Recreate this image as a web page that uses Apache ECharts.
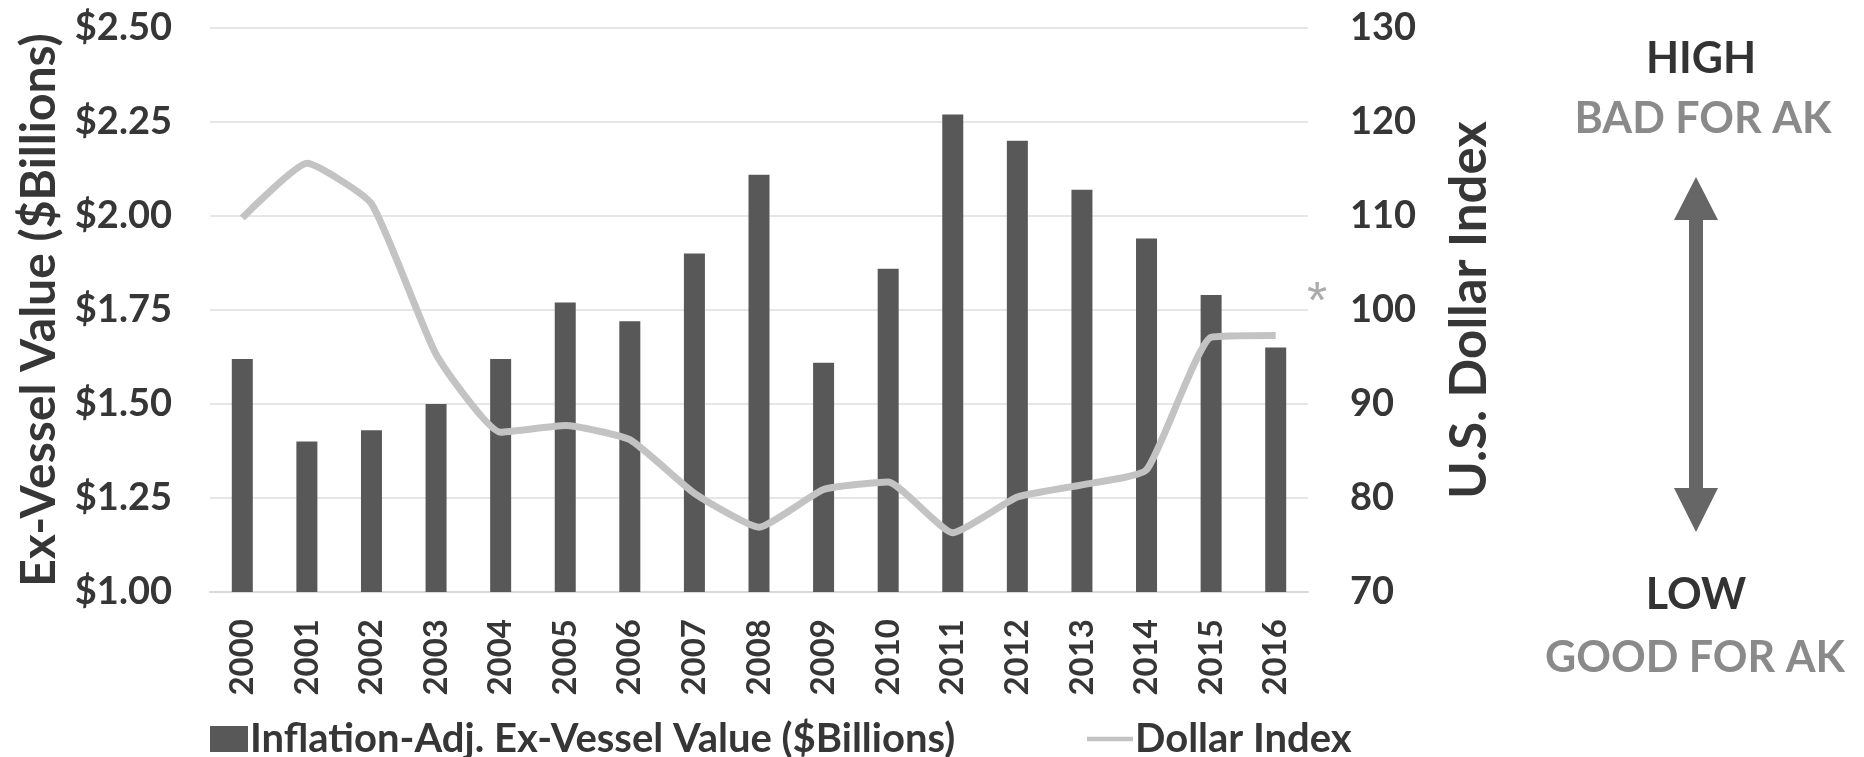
<!DOCTYPE html>
<html>
<head>
<meta charset="utf-8">
<title>Ex-Vessel Value and Dollar Index</title>
<script src="https://cdn.jsdelivr.net/npm/echarts@6/dist/echarts.min.js"></script>
<style>
  html, body { margin: 0; padding: 0; background: #ffffff; }
  #chart { width: 1864px; height: 757px; }
</style>
</head>
<body>
<div id="chart"></div>
<script>
// Years on the category axis
const years = ['2000', '2001', '2002', '2003', '2004', '2005', '2006', '2007', '2008',
               '2009', '2010', '2011', '2012', '2013', '2014', '2015', '2016'];

// Inflation-adjusted ex-vessel value, $ billions
const exVesselValue = [1.62, 1.40, 1.43, 1.50, 1.62, 1.77, 1.72, 1.90, 2.11,
                       1.61, 1.86, 2.27, 2.20, 2.07, 1.94, 1.79, 1.65];

// U.S. dollar index
const dollarIndex = [109.8, 115.6, 111.3, 95.3, 87.0, 87.7, 86.2, 80.5, 76.9,
                     80.9, 81.7, 76.3, 80.1, 81.4, 83.0, 97.1, 97.3];

// Axis ranges
const leftAxis = { min: 1.0, max: 2.5, interval: 0.25 };
const rightAxis = { min: 70, max: 130, interval: 10 };

const barName = 'Inflation-Adj. Ex-Vessel Value ($Billions)';
const lineName = 'Dollar Index';

const FONT = 'Lato';
const TEXT = '#363636';

const chart = echarts.init(document.getElementById('chart'), null, { renderer: 'canvas' });

chart.setOption({
  animation: false,
  backgroundColor: '#ffffff',
  textStyle: { fontFamily: FONT },
  grid: { left: 210, right: 556, top: 28, bottom: 165, containLabel: false },
  legend: [
    {
      data: [{ name: barName, icon: 'rect' }],
      left: 205, top: 714,
      itemWidth: 38, itemHeight: 26, itemGap: 0,
      textStyle: { fontFamily: FONT, fontWeight: 'bold', fontSize: 40, color: TEXT, padding: [0, 0, 0, -3] }
    },
    {
      data: [{ name: lineName, icon: 'path://M0,0 L10,0 L10,1 L0,1 Z' }],
      left: 1082, top: 714,
      itemWidth: 46, itemHeight: 5, itemGap: 0,
      textStyle: { fontFamily: FONT, fontWeight: 'bold', fontSize: 40, color: TEXT, padding: [0, 0, 0, -3] }
    }
  ],
  xAxis: {
    type: 'category',
    data: years,
    axisLine: { show: true, lineStyle: { color: '#d9d9d9', width: 2 } },
    axisTick: { show: false },
    axisLabel: {
      rotate: 90, margin: 27,
      fontFamily: FONT, fontWeight: 'bold', fontSize: 33, color: TEXT
    }
  },
  yAxis: [
    {
      type: 'value',
      min: leftAxis.min, max: leftAxis.max, interval: leftAxis.interval,
      name: 'Ex-Vessel Value ($Billions)',
      nameLocation: 'middle', nameRotate: 90, nameGap: 144,
      nameTextStyle: { fontFamily: FONT, fontWeight: 'bold', fontSize: 48, color: TEXT },
      axisLine: { show: false },
      axisTick: { show: false },
      axisLabel: {
        margin: 38,
        fontFamily: FONT, fontWeight: 'bold', fontSize: 38, color: TEXT,
        formatter: v => '$' + v.toFixed(2)
      },
      splitLine: { lineStyle: { color: '#e6e6e6', width: 2 } }
    },
    {
      type: 'value',
      position: 'right',
      min: rightAxis.min, max: rightAxis.max, interval: rightAxis.interval,
      name: 'U.S. Dollar Index',
      nameLocation: 'middle', nameRotate: 90, nameGap: 136,
      nameTextStyle: { fontFamily: FONT, fontWeight: 'bold', fontSize: 51, color: TEXT },
      axisLine: { show: false },
      axisTick: { show: false },
      axisLabel: {
        margin: 42,
        fontFamily: FONT, fontWeight: 'bold', fontSize: 38, color: TEXT
      },
      splitLine: { show: false }
    }
  ],
  series: [
    {
      name: barName,
      type: 'bar',
      yAxisIndex: 0,
      data: exVesselValue,
      barWidth: 21,
      itemStyle: { color: '#585858' }
    },
    {
      name: lineName,
      type: 'line',
      yAxisIndex: 1,
      data: dollarIndex,
      smooth: 0.15,
      symbol: 'none',
      lineStyle: { color: '#c3c3c3', width: 7 },
      itemStyle: { color: '#c3c3c3' }
    }
  ],
  graphic: [
    // footnote marker next to the last point
    { type: 'text', x: 1317, y: 304,
      style: { text: '*', font: '52px "Liberation Sans"', fill: '#ababab', textAlign: 'center', textVerticalAlign: 'middle' } },
    // interpretation guide on the right
    { type: 'text', x: 1701, y: 59,
      style: { text: 'HIGH', font: 'bold 43px Lato', fill: '#333333', textAlign: 'center', textVerticalAlign: 'middle' } },
    { type: 'text', x: 1703, y: 119,
      style: { text: 'BAD FOR AK', font: 'bold 43px Lato', fill: '#8a8a8a', textAlign: 'center', textVerticalAlign: 'middle' } },
    { type: 'text', x: 1696, y: 595,
      style: { text: 'LOW', font: 'bold 43px Lato', fill: '#333333', textAlign: 'center', textVerticalAlign: 'middle' } },
    { type: 'text', x: 1695, y: 658,
      style: { text: 'GOOD FOR AK', font: 'bold 43px Lato', fill: '#8a8a8a', textAlign: 'center', textVerticalAlign: 'middle' } },
    { type: 'polygon',
      shape: { points: [
        [1696, 177], [1718, 220], [1703, 220], [1703, 488], [1718, 488],
        [1696, 532], [1674, 488], [1689, 488], [1689, 220], [1674, 220]
      ] },
      style: { fill: '#666666' } }
  ]
});
</script>
</body>
</html>
